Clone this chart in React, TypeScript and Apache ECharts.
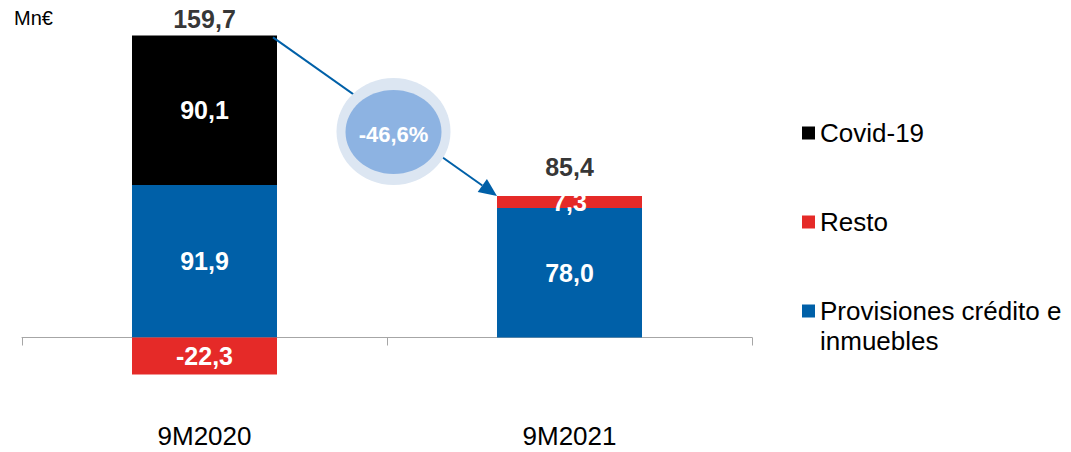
import React, { useEffect, useRef } from "react";
import * as echarts from "echarts";

const categories = ["9M2020", "9M2021"];
const provisiones = [91.9, 78.0];
const resto = [-22.3, 7.3];
const covid = [90.1, 0];
const totals = [159.7, 85.4];
const changeLabel = "-46,6%";
const unitLabel = "Mn€";
const seriesNames = ["Provisiones crédito e inmuebles", "Resto", "Covid-19"];
const legendOrder = ["Covid-19", "Resto", "Provisiones crédito e inmuebles"];
const legendText: Record<string, string> = {
  "Covid-19": "Covid-19",
  Resto: "Resto",
  "Provisiones crédito e inmuebles": "Provisiones crédito e\ninmuebles",
};

const FONT = "'Liberation Sans', Arial, sans-serif";
const BLUE = "#0060A8";
const RED = "#E52A28";
const BLACK = "#000000";
const GRAY = "#A6A6A6";
const BAR_W = 145;

const fmt = (v: number) => v.toFixed(1).replace(".", ",");

export default function App() {
  const ref = useRef<HTMLDivElement>(null);

  useEffect(() => {
    if (!ref.current) return;
    const chart = echarts.init(ref.current, null, { renderer: "svg" });

    const tops = categories.map(
      (_, i) => provisiones[i] + Math.max(resto[i], 0) + Math.max(covid[i], 0)
    );

    const segLabel = {
      show: true,
      position: "inside",
      color: "#ffffff",
      fontWeight: "bold",
      fontSize: 25,
      fontFamily: FONT,
      formatter: (p: any) => (p.value === 0 ? "" : fmt(p.value)),
    };

    const option: any = {
      animation: false,
      backgroundColor: "#ffffff",
      textStyle: { fontFamily: FONT },
      grid: {
        left: 22,
        right: 319,
        top: 22.1,
        bottom: 14.9,
        containLabel: false,
        outerBoundsMode: "none",
      },
      legend: {
        orient: "vertical",
        left: 802,
        top: 88,
        padding: 0,
        itemWidth: 13,
        itemHeight: 13,
        itemGap: -1,
        icon: "rect",
        data: legendOrder,
        selectedMode: false,
        formatter: (name: string) => {
          const t = legendText[name] || name;
          // blank line above so the first text line sits beside the icon
          return t.indexOf("\n") >= 0 ? " \n" + t : " \n" + t + "\n ";
        },
        textStyle: {
          color: "#000000",
          fontSize: 26,
          lineHeight: 30,
          fontFamily: FONT,
        },
      },
      xAxis: {
        type: "category",
        data: categories,
        axisLine: { show: true, onZero: true, lineStyle: { color: GRAY, width: 1 } },
        axisTick: { show: true, length: 8, alignWithLabel: false, lineStyle: { color: GRAY, width: 1 } },
        axisLabel: { color: "#000000", fontSize: 26, fontFamily: FONT, margin: -14 },
        splitLine: { show: false },
      },
      yAxis: {
        type: "value",
        min: -60,
        max: 190,
        axisLine: { show: false },
        axisTick: { show: false },
        axisLabel: { show: false },
        splitLine: { show: false },
      },
      series: [
        {
          name: seriesNames[0],
          type: "bar",
          stack: "total",
          barWidth: BAR_W,
          data: provisiones,
          itemStyle: { color: BLUE },
          label: segLabel,
        },
        {
          name: seriesNames[1],
          type: "bar",
          stack: "total",
          barWidth: BAR_W,
          data: resto,
          itemStyle: { color: RED },
          label: segLabel,
        },
        {
          name: seriesNames[2],
          type: "bar",
          stack: "total",
          barWidth: BAR_W,
          data: covid,
          itemStyle: { color: BLACK },
          label: segLabel,
        },
        {
          name: "Total",
          type: "scatter",
          symbolSize: 0,
          silent: true,
          data: categories.map((_, i) => ({
            value: [i, tops[i]],
            label: { distance: i === 0 ? 4 : 16 },
          })),
          label: {
            show: true,
            position: "top",
            color: "#000000",
            fontWeight: "bold",
            fontSize: 25,
            fontFamily: FONT,
            formatter: (p: any) => fmt(totals[p.dataIndex]),
          },
        },
      ],
    };

    chart.setOption(option);

    const p0 = chart.convertToPixel({ gridIndex: 0 }, [0, tops[0]]) as number[];
    const p1 = chart.convertToPixel({ gridIndex: 0 }, [1, tops[1]]) as number[];
    const sx = p0[0] + BAR_W / 2 - 4;
    const sy = p0[1] + 2;
    const ex = p1[0] - BAR_W / 2;
    const ey = p1[1];
    const dx = ex - sx;
    const dy = ey - sy;
    const len = Math.sqrt(dx * dx + dy * dy);
    const ux = dx / len;
    const uy = dy / len;
    const headL = 18;
    const headW = 8;
    const bx = ex - ux * headL;
    const by = ey - uy * headL;

    chart.setOption({
      graphic: [
        {
          type: "line",
          z: 10,
          shape: { x1: sx, y1: sy, x2: bx, y2: by },
          style: { stroke: BLUE, lineWidth: 2 },
          silent: true,
        },
        {
          type: "polygon",
          z: 10,
          shape: {
            points: [
              [ex, ey],
              [bx - uy * headW, by + ux * headW],
              [bx + uy * headW, by - ux * headW],
            ],
          },
          style: { fill: BLUE },
          silent: true,
        },
        {
          type: "ellipse",
          z: 20,
          shape: { cx: 393.5, cy: 131.5, rx: 57, ry: 53.5 },
          style: { fill: "#DCE6F2" },
          silent: true,
        },
        {
          type: "ellipse",
          z: 21,
          shape: { cx: 393.5, cy: 132, rx: 48, ry: 42 },
          style: { fill: "#8DB3E2" },
          silent: true,
        },
        {
          type: "text",
          z: 22,
          x: 393.5,
          y: 134,
          style: {
            text: changeLabel,
            fill: "#ffffff",
            font: `bold 22px ${FONT}`,
            align: "center",
            verticalAlign: "middle",
          },
          silent: true,
        },
        {
          type: "text",
          z: 22,
          x: 14,
          y: 18,
          style: {
            text: unitLabel,
            fill: "#000000",
            font: `20px ${FONT}`,
            align: "left",
            verticalAlign: "middle",
          },
          silent: true,
        },
      ],
    });

    return () => chart.dispose();
  }, []);

  return (
    <div
      ref={ref}
      style={{ position: "fixed", left: 0, top: 0, width: 1071, height: 452, background: "#fff" }}
    />
  );
}
